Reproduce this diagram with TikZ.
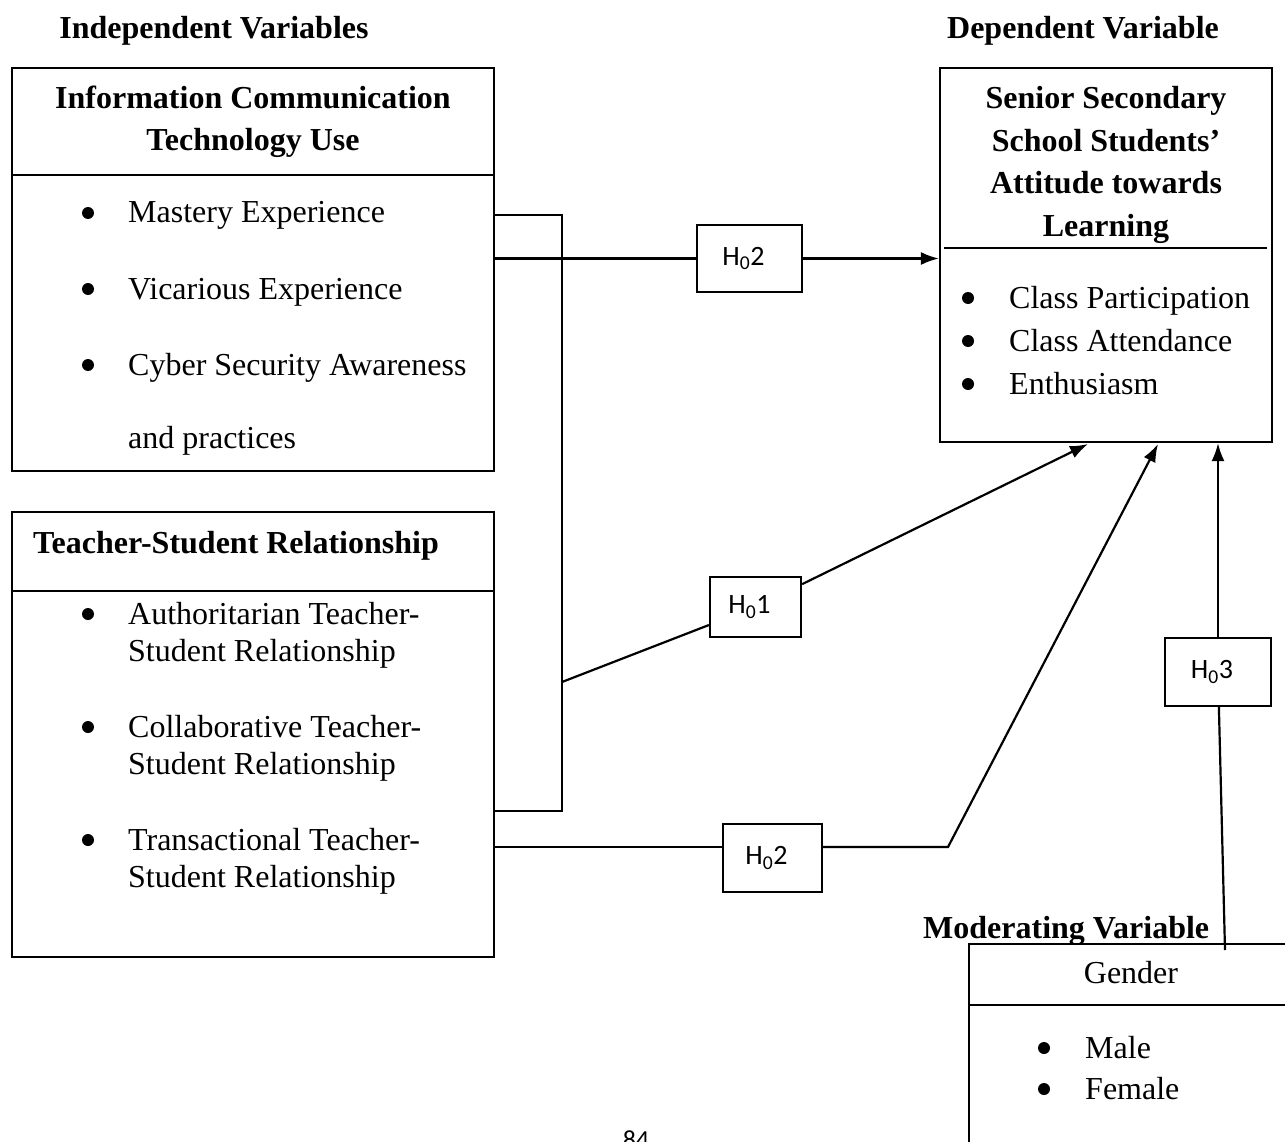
\documentclass[tikz,border=0pt]{standalone}
\usepackage{fontspec}
\setmainfont{Liberation Serif}
\newfontfamily\hfont{Carlito}
\usetikzlibrary{arrows.meta, positioning}

\newcommand{\hyp}[1]{H\textsubscript{0}#1\hspace*{12pt}}

\begin{document}
\begin{tikzpicture}[x=1pt, y=-1pt, >={Latex[length=18pt,width=13pt]},
      vbox/.style={draw, line width=2.2pt, inner sep=0pt},
      hbox/.style={draw, line width=2.2pt, inner sep=0pt,
          font=\hfont\fontsize{28}{32}\selectfont},
      ttl/.style={anchor=base, align=center, inner sep=0pt,
          font=\fontsize{32}{42.5}\selectfont\bfseries},
      itm/.style={anchor=base west, align=left, inner sep=0pt,
          font=\fontsize{32}{37}\selectfont},
      dot/.style={circle, fill, inner sep=0pt, minimum size=12pt},
      link/.style={line width=2.2pt}]
    \clip (0,0) rectangle (1285,1142);

    \node[vbox, minimum width=482pt, minimum height=403pt] (ict) at (253,269.5) {};
    \node[vbox, minimum width=482pt, minimum height=445pt] (tsr) at (253,734.5) {};
    \node[vbox, minimum width=332pt, minimum height=374pt] (dep) at (1106,255) {};
    \node[vbox, minimum width=400pt, minimum height=260pt, anchor=north west] (gen) at (968,943) {};

    \draw[line width=2.4pt] (12,175) -- (494,175);
    \draw[line width=2.4pt] (12,591) -- (494,591);
    \draw[line width=2.4pt] (944,248) -- (1267,248);
    \draw[line width=2.4pt] (968,1005) -- (1285,1005);

    \node[ttl] (indep) at (214,39) {Independent Variables};
    \node[ttl] (depv) at (1083,39) {Dependent Variable};
    \node[ttl, anchor=base west] (modv) at (923,938) {Moderating Variable};

    % multi-line nodes sit on the baseline of their last line
    \node[ttl] (ictt) at (253,151) {Information Communication\\Technology Use};
    \node[ttl, anchor=base west] (tsrt) at (33,553) {Teacher-Student Relationship};
    \node[ttl] (dept) at (1106,236.5) {Senior Secondary\\School Students’\\Attitude towards\\Learning};
    \node[itm, anchor=base] (gent) at (1131,983) {Gender};

    \foreach \y/\t [count=\i] in {223/Mastery Experience, 299/Vicarious Experience,
        375/Cyber Security Awareness}{
      \node[dot] (ictb\i) at (88,\y-10) {};
      \node[itm] (icti\i) at (128,\y) {\t};
    }
    \node[itm] (icti4) at (128,448) {and practices};

    \foreach \y/\t [count=\i] in {624/Authoritarian, 737/Collaborative, 850/Transactional}{
      \node[dot] (tsrb\i) at (88,\y-10) {};
      \node[itm] (tsri\i) at (128,\y+37) {\t\ Teacher-\\Student Relationship};
    }

    \foreach \y/\t [count=\i] in {308/Class Participation, 351/Class Attendance, 394/Enthusiasm}{
      \node[dot] (depb\i) at (968,\y-10) {};
      \node[itm] (depi\i) at (1009,\y) {\t};
    }

    \foreach \y/\t [count=\i] in {1058/Male, 1099/Female}{
      \node[dot] (genb\i) at (1044,\y-10) {};
      \node[itm] (geni\i) at (1085,\y) {\t};
    }

    \node[hbox, minimum width=105pt, minimum height=67pt] (h2a) at (749.5,258.5) {\hyp{2}};
    \node[hbox, minimum width=91pt, minimum height=60pt] (h1) at (755.5,607) {\hyp{1}};
    \node[hbox, minimum width=106pt, minimum height=68pt] (h3) at (1218,672) {\hyp{3}};
    \node[hbox, minimum width=99pt, minimum height=68pt] (h2b) at (772.5,858) {\hyp{2}};

    \coordinate (b1) at (494,215);
    \coordinate (b2) at (562,215);
    \coordinate (b3) at (562,811);
    \coordinate (b4) at (494,811);
    \coordinate (b5) at (562,682);
    \coordinate (t3) at (494,847);
    \coordinate (k2) at (948,847);
    \coordinate (m3) at (1225,950);
    \coordinate (d1) at (1088,444);
    \coordinate (d2) at (1158,444);

    \draw[link, line width=2.8pt] (b1) -- (b2) -- (b3) -- (b4);
    \draw[link] (h2a.west -| ict.east) -- (h2a.west);
    \draw[link, ->] (h2a.east) -- (h2a.east -| dep.west);
    \draw[link] (b5) -- (h1);
    \draw[link, ->] (h1) -- (d1);
    \draw[link] (t3) -- (t3 -| h2b.west);
    \draw[link, ->] (t3 -| h2b.east) -- (k2) -- (d2);
    \draw[link] (m3) -- (h3);
    \draw[link, ->] (h3) -- (h3.north |- dep.south);

    \node[anchor=base, inner sep=0pt, font=\hfont\fontsize{26}{30}\selectfont] (pg) at (636,1148) {84};
  \end{tikzpicture}
\end{document}
